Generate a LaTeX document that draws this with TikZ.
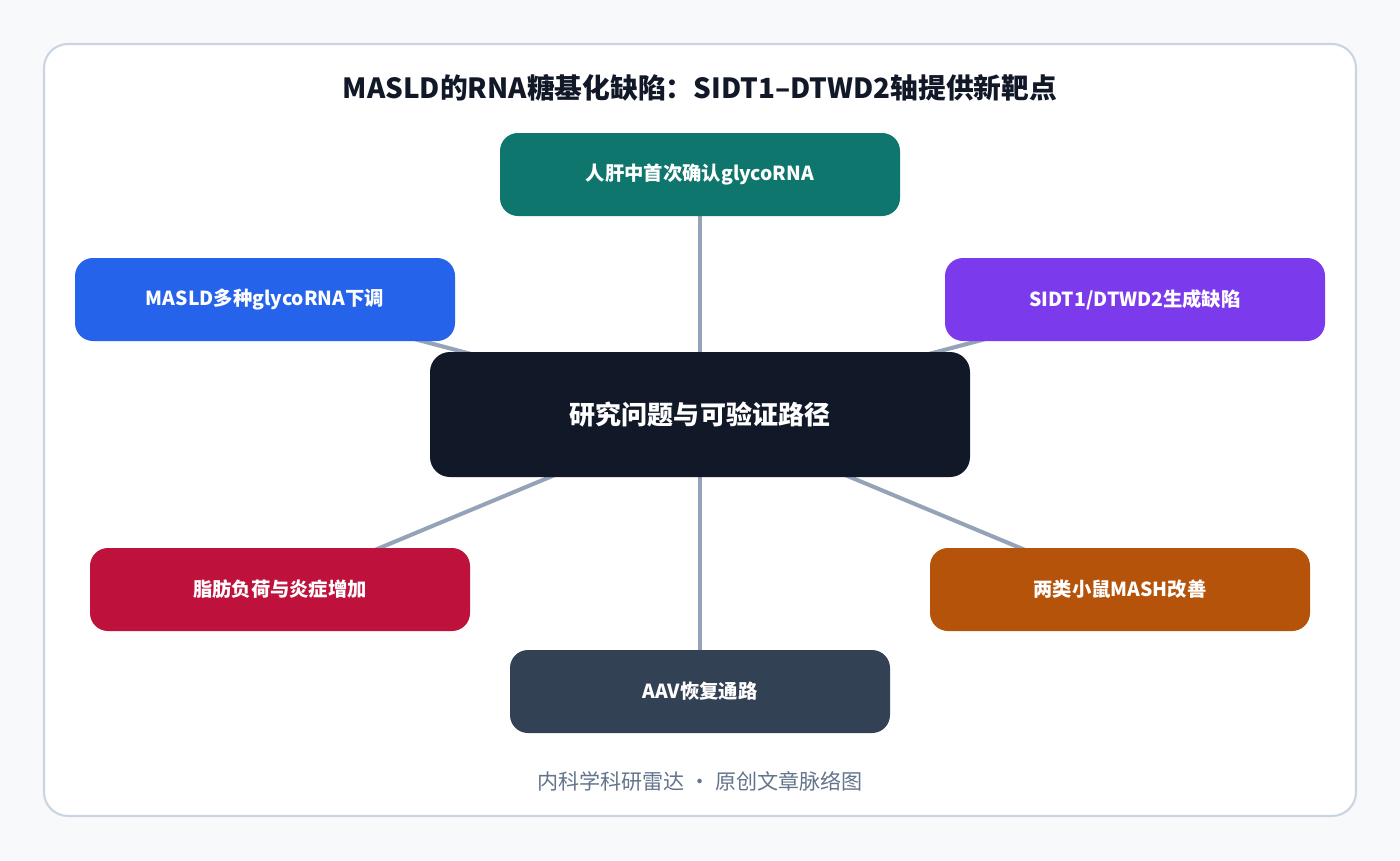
\documentclass[tikz,border=0pt]{standalone}
\usepackage{fontspec}
\setmainfont{Noto Sans CJK SC}
\usetikzlibrary{positioning,backgrounds}
\definecolor{pagebg}{HTML}{F7F9FB}
\definecolor{cardline}{HTML}{CBD5E1}
\definecolor{linkgray}{HTML}{94A3B8}
\definecolor{inkdark}{HTML}{111827}
\definecolor{footgray}{HTML}{64748B}
\definecolor{cteal}{HTML}{0F766E}
\definecolor{cblue}{HTML}{2563EB}
\definecolor{cpurple}{HTML}{7C3AED}
\definecolor{cred}{HTML}{BE123C}
\definecolor{corange}{HTML}{B45309}
\definecolor{cslate}{HTML}{334155}
\pgfdeclarelayer{cardlayer}
\pgfdeclarelayer{linklayer}
\pgfsetlayers{cardlayer,linklayer,main}
\tikzset{
  topic/.style   = {rounded corners=0.36cm, text=white, font=\bfseries\fontsize{11}{13}\selectfont,
                    minimum width=7.6cm, minimum height=1.66cm, inner sep=0pt},
  hubbox/.style  = {rounded corners=0.4cm, fill=inkdark, text=white,
                    font=\bfseries\fontsize{14.8}{17}\selectfont,
                    minimum width=10.8cm, minimum height=2.5cm, inner sep=0pt},
  link/.style    = {draw=linkgray, line width=2.3pt},
  titletext/.style = {font=\bfseries\fontsize{15.8}{18}\selectfont, text=inkdark},
  foottext/.style  = {font=\fontsize{12}{14}\selectfont, text=footgray},
}

\begin{document}
\begin{tikzpicture}
  \useasboundingbox (0,0) rectangle (28,-17.2);

  % ---- page and card -------------------------------------------------------
  \begin{pgfonlayer}{cardlayer}
    \fill[pagebg] (0,0) rectangle (28,-17.2);
    \draw[cardline, line width=1.2pt, fill=white, rounded corners=0.48cm]
          (0.88,-0.88) rectangle (27.12,-16.32);
  \end{pgfonlayer}

  \node[titletext] (title) at (14,-1.76) {MASLD的RNA糖基化缺陷：SIDT1–DTWD2轴提供新靶点};

  % ---- hub and topics ------------------------------------------------------
  \node[hubbox] (hub) at (14,-8.29) {研究问题与可验证路径};

  \node[topic, fill=cteal, minimum width=8cm] (liver) at (14,-3.49) {人肝中首次确认glycoRNA};
  \node[topic, fill=cblue]   (down)  at (5.3,-5.99)   {MASLD多种glycoRNA下调};
  \node[topic, fill=cpurple] (sidt)  at (22.7,-5.99)  {SIDT1/DTWD2生成缺陷};
  \node[topic, fill=cred]    (fat)   at (5.6,-11.79)  {脂肪负荷与炎症增加};
  \node[topic, fill=corange] (mash)  at (22.4,-11.79) {两类小鼠MASH改善};
  \node[topic, fill=cslate]  (aav)   at (14,-13.83)   {AAV恢复通路};

  \node[foottext] (foot) at (14,-15.62) {内科学科研雷达 · 原创文章脉络图};

  % ---- links from the hub --------------------------------------------------
  \begin{pgfonlayer}{linklayer}
    \foreach \t in {liver,down,sidt,fat,mash,aav}
      \draw[link] (hub.center) -- (\t.center);
  \end{pgfonlayer}
\end{tikzpicture}
\end{document}
